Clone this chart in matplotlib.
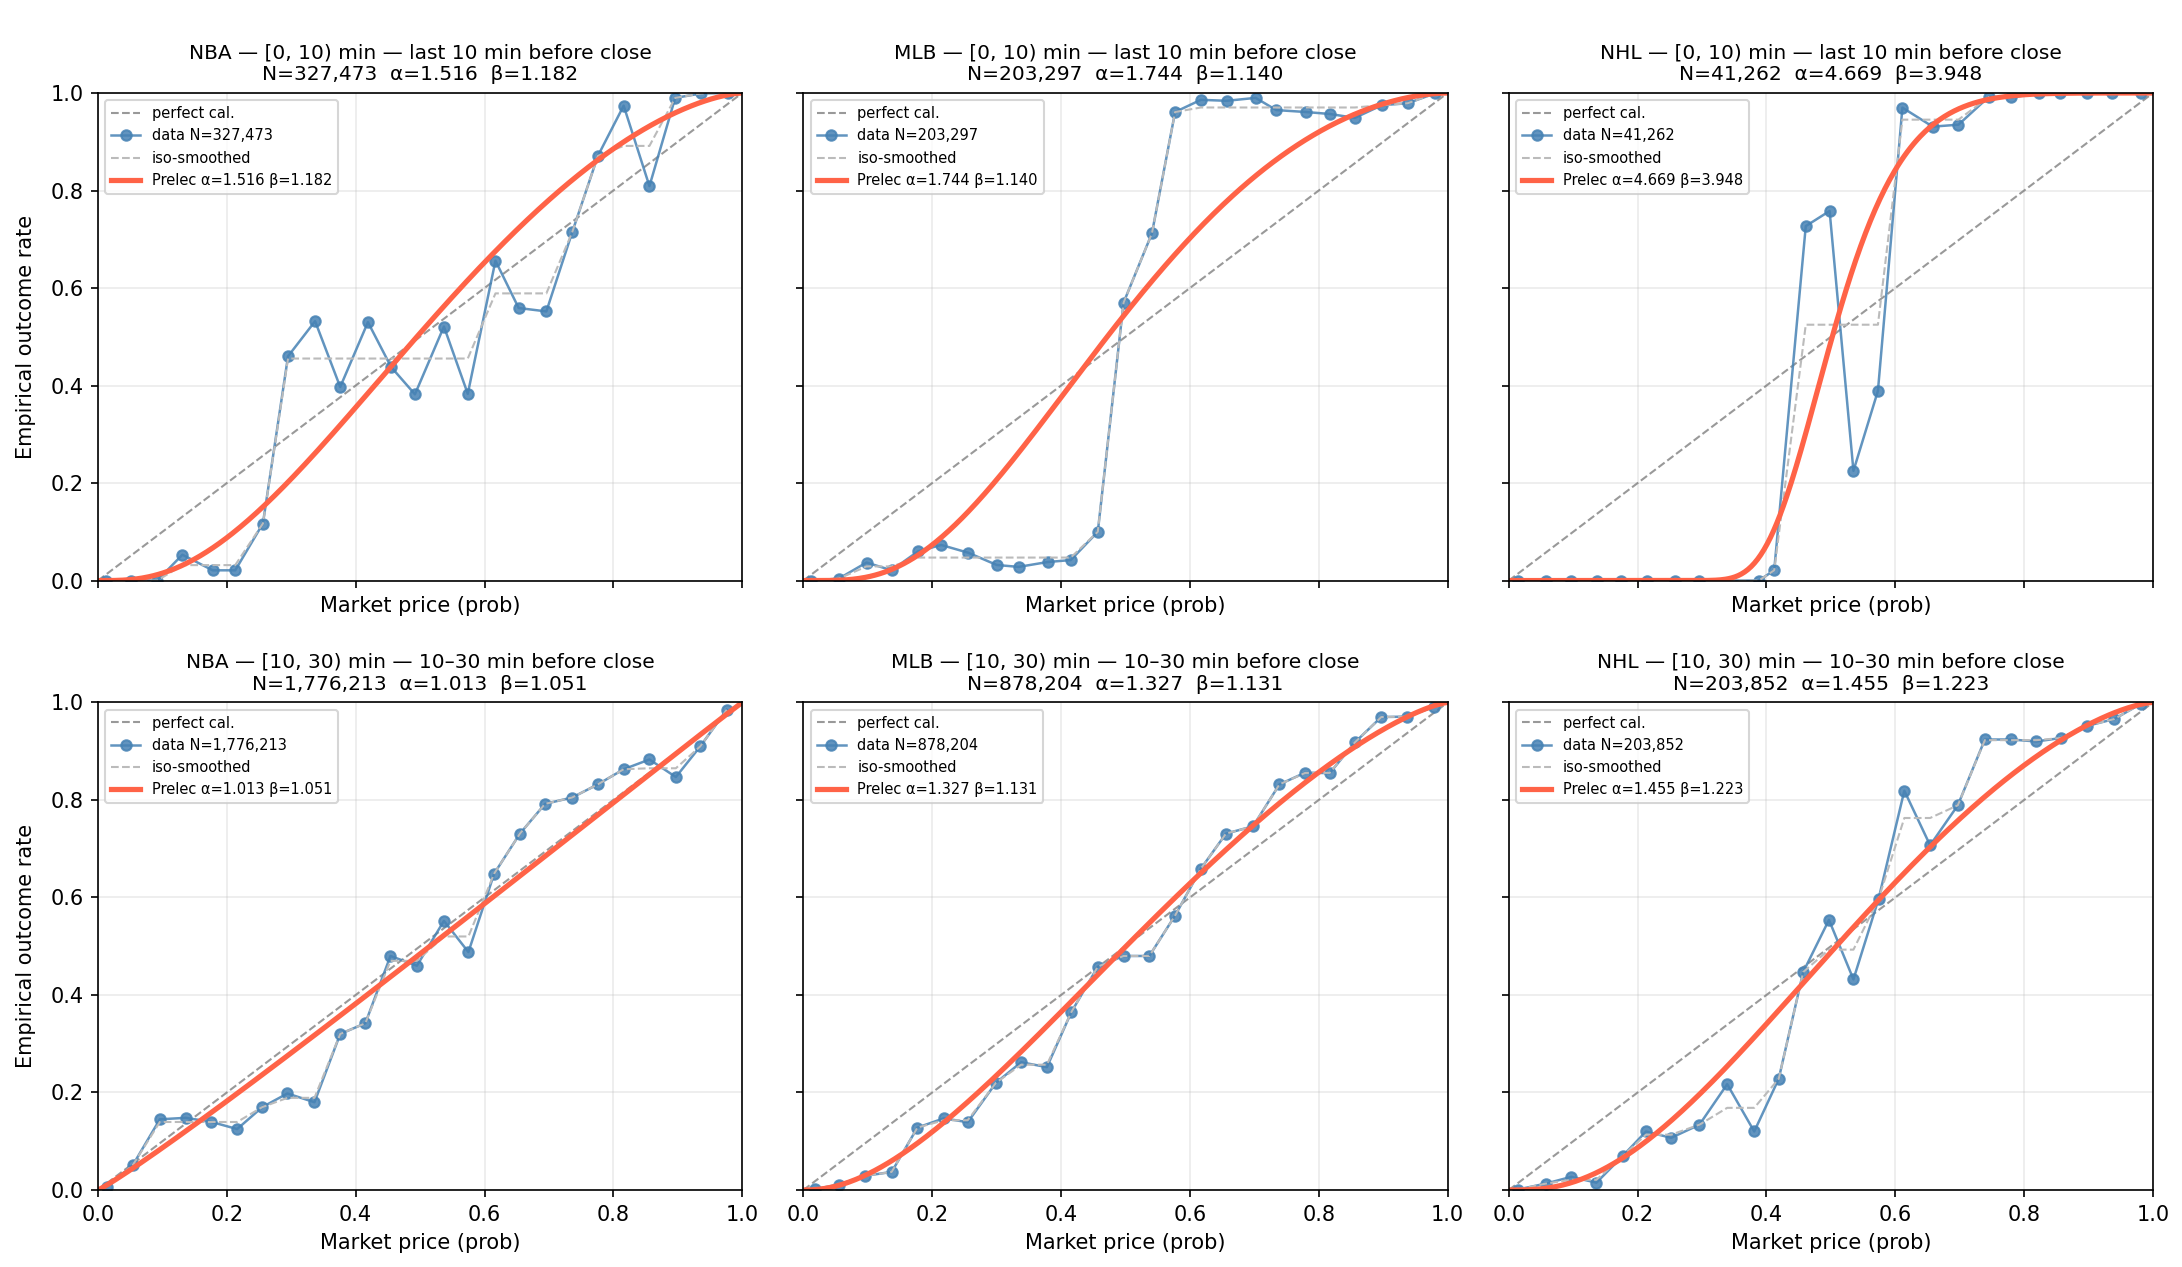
import numpy as np
import matplotlib
matplotlib.use('Agg')
import matplotlib.pyplot as plt


# panel order: top row [0, 10) min, bottom row [10, 30) min
leagues = ['NBA', 'MLB', 'NHL', 'NBA', 'MLB', 'NHL']
windows = ['[0, 10) min — last 10 min before close'] * 3 + \
          ['[10, 30) min — 10–30 min before close'] * 3
counts = ['327,473', '203,297', '41,262', '1,776,213', '878,204', '203,852']
alphas = [1.516, 1.744, 4.669, 1.013, 1.327, 1.455]
betas = [1.182, 1.140, 3.948, 1.051, 1.131, 1.223]

nba_0_x = [0.013, 0.052, 0.092, 0.131, 0.178, 0.213, 0.256, 0.295, 0.337,
           0.376, 0.419, 0.455, 0.492, 0.537, 0.574, 0.617, 0.653, 0.696,
           0.736, 0.776, 0.816, 0.856, 0.896, 0.936, 0.978]
nba_0_y = [0.0, 0.0, 0.0, 0.053, 0.021, 0.021, 0.117, 0.460, 0.532,
           0.397, 0.530, 0.438, 0.382, 0.521, 0.383, 0.656, 0.559, 0.552,
           0.714, 0.871, 0.974, 0.809, 0.990, 0.999, 1.0]

mlb_0_x = [0.012, 0.055, 0.098, 0.137, 0.178, 0.214, 0.256, 0.300, 0.334,
           0.379, 0.415, 0.457, 0.497, 0.541, 0.577, 0.617, 0.657, 0.702,
           0.734, 0.780, 0.817, 0.856, 0.898, 0.938, 0.980]
mlb_0_y = [0.0, 0.004, 0.037, 0.021, 0.060, 0.073, 0.057, 0.032, 0.028,
           0.038, 0.042, 0.100, 0.570, 0.712, 0.961, 0.986, 0.984, 0.990,
           0.965, 0.961, 0.957, 0.949, 0.975, 0.979, 0.999]

nhl_0_x = [0.014, 0.058, 0.096, 0.137, 0.174, 0.215, 0.258, 0.296, 0.388,
           0.412, 0.461, 0.498, 0.535, 0.573, 0.611, 0.658, 0.698, 0.745,
           0.779, 0.823, 0.856, 0.898, 0.936, 0.981]
nhl_0_y = [0.0, 0.0, 0.0, 0.0, 0.0, 0.0, 0.0, 0.0, 0.0,
           0.021, 0.727, 0.758, 0.225, 0.389, 0.970, 0.931, 0.935, 0.992,
           0.991, 0.999, 1.0, 1.0, 1.0, 1.0]

nba_1_x = [0.014, 0.054, 0.096, 0.136, 0.175, 0.216, 0.255, 0.294, 0.336,
           0.376, 0.415, 0.454, 0.495, 0.537, 0.575, 0.615, 0.655, 0.694,
           0.736, 0.776, 0.816, 0.856, 0.897, 0.935, 0.976]
nba_1_y = [0.007, 0.051, 0.145, 0.148, 0.140, 0.125, 0.170, 0.198, 0.180,
           0.320, 0.342, 0.480, 0.460, 0.552, 0.488, 0.649, 0.731, 0.792,
           0.805, 0.832, 0.863, 0.883, 0.847, 0.910, 0.985]

mlb_1_x = [0.018, 0.055, 0.095, 0.137, 0.177, 0.218, 0.255, 0.299, 0.338,
           0.378, 0.416, 0.457, 0.497, 0.537, 0.577, 0.617, 0.656, 0.698,
           0.739, 0.779, 0.817, 0.856, 0.897, 0.937, 0.979]
mlb_1_y = [0.002, 0.011, 0.029, 0.037, 0.128, 0.147, 0.139, 0.220, 0.262,
           0.252, 0.365, 0.458, 0.480, 0.480, 0.563, 0.659, 0.731, 0.746,
           0.832, 0.856, 0.855, 0.918, 0.970, 0.971, 0.991]

nhl_1_x = [0.014, 0.057, 0.097, 0.136, 0.177, 0.213, 0.252, 0.296, 0.339,
           0.381, 0.419, 0.457, 0.497, 0.535, 0.574, 0.614, 0.654, 0.697,
           0.739, 0.779, 0.819, 0.857, 0.898, 0.940, 0.981]
nhl_1_y = [0.001, 0.013, 0.027, 0.015, 0.070, 0.120, 0.107, 0.134, 0.217,
           0.120, 0.228, 0.447, 0.554, 0.432, 0.597, 0.819, 0.707, 0.789,
           0.924, 0.924, 0.920, 0.927, 0.952, 0.966, 0.997]

xs = [nba_0_x, mlb_0_x, nhl_0_x, nba_1_x, mlb_1_x, nhl_1_x]
ys = [nba_0_y, mlb_0_y, nhl_0_y, nba_1_y, mlb_1_y, nhl_1_y]


def isotonic(y):
    # pool adjacent violators, equal weights
    blocks = [[v, 1] for v in y]
    i = 0
    while i < len(blocks) - 1:
        if blocks[i][0] > blocks[i + 1][0]:
            v0, n0 = blocks[i]
            v1, n1 = blocks[i + 1]
            blocks[i] = [(v0 * n0 + v1 * n1) / (n0 + n1), n0 + n1]
            del blocks[i + 1]
            if i > 0:
                i -= 1
        else:
            i += 1
    out = []
    for v, n in blocks:
        out += [v] * n
    return np.array(out)


def prelec(p, a, b):
    return np.exp(-b * (-np.log(p)) ** a)


fig, axes = plt.subplots(2, 3, figsize=(2182 / 150, 1267 / 150), dpi=150,
                         sharex=True, sharey=True)
fig.subplots_adjust(left=98 / 2182, right=2153 / 2182, top=1 - 93 / 1267,
                    bottom=1 - 1190 / 1267, wspace=0.095, hspace=0.25)

pp = np.linspace(0.001, 0.999, 400)
for k, ax in enumerate(axes.flat):
    ax.plot([0, 1], [0, 1], '--', color='gray', lw=1, alpha=0.8,
            label='perfect cal.')
    ax.plot(xs[k], ys[k], '-o', color='steelblue', ms=5, lw=1.2, alpha=0.85,
            label='data N=' + counts[k])
    ax.plot(xs[k], isotonic(ys[k]), '--', color='#bbbbbb', lw=1,
            label='iso-smoothed')
    ax.plot(pp, prelec(pp, alphas[k], betas[k]), color='tomato', lw=2.5,
            label='Prelec α=%.3f β=%.3f' % (alphas[k], betas[k]))
    ax.set_xlim(0, 1)
    ax.set_ylim(0, 1)
    ax.grid(alpha=0.25)
    ax.set_title('%s — %s\nN=%s  α=%.3f  β=%.3f' % (
        leagues[k], windows[k], counts[k], alphas[k], betas[k]),
        fontsize=9.7)
    ax.set_xlabel('Market price (prob)')
    if k % 3 == 0:
        ax.set_ylabel('Empirical outcome rate', labelpad=7)
    ax.legend(loc='upper left', fontsize=7)

fig.savefig('out.png', dpi=150)
